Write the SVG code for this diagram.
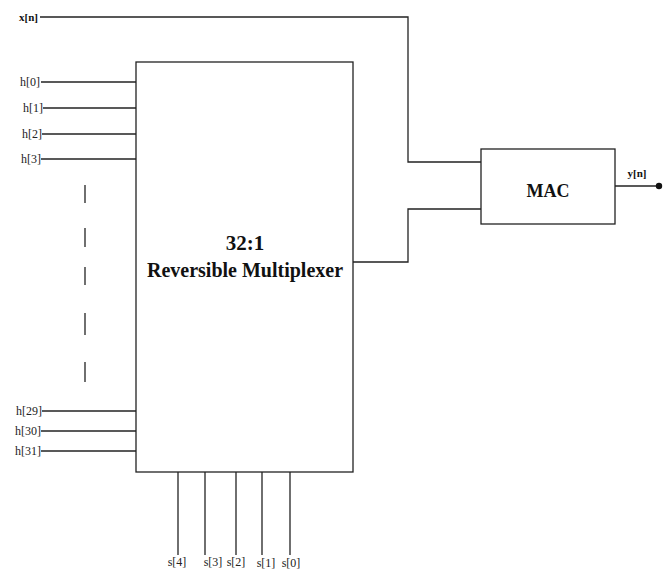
<svg xmlns="http://www.w3.org/2000/svg" width="669" height="571" viewBox="0 0 669 571">
<style>
.w{stroke:#222;stroke-width:1.3;fill:none}
.b{fill:#fff;stroke:#222;stroke-width:1.3}
.t{font-family:"Liberation Serif",serif;font-size:12px;fill:#222}
.tb{font-family:"Liberation Serif",serif;font-weight:bold;fill:#111}
</style>
<rect width="669" height="571" fill="#fff"/>
<g id="connectors">
<polyline class="w" points="40,17 408,17 408,162 481,162"/>
<polyline class="w" points="353,262 408,262 408,209 481,209"/>
<line class="w" x1="615" y1="186" x2="659" y2="186"/>
<circle cx="659" cy="186" r="3.2" fill="#111"/>
<line class="w" x1="41" y1="82" x2="136" y2="82"/>
<line class="w" x1="43" y1="108" x2="136" y2="108"/>
<line class="w" x1="42" y1="134" x2="136" y2="134"/>
<line class="w" x1="41" y1="159" x2="136" y2="159"/>
<line class="w" x1="42" y1="411" x2="136" y2="411"/>
<line class="w" x1="41" y1="431" x2="136" y2="431"/>
<line class="w" x1="41" y1="451" x2="136" y2="451"/>
<g class="w">
<line x1="85" y1="185" x2="85" y2="203"/>
<line x1="85" y1="228" x2="85" y2="247"/>
<line x1="85" y1="267" x2="85" y2="285"/>
<line x1="85" y1="313" x2="85" y2="335"/>
<line x1="85" y1="362" x2="85" y2="382"/>
</g>
<line class="w" x1="178" y1="472" x2="178" y2="555"/>
<line class="w" x1="205" y1="472" x2="205" y2="555"/>
<line class="w" x1="236" y1="472" x2="236" y2="555"/>
<line class="w" x1="262" y1="472" x2="262" y2="555"/>
<line class="w" x1="290" y1="472" x2="290" y2="555"/>
</g>
<g id="mux">
<rect class="b" x="136" y="62" width="217" height="410"/>
<text class="tb" x="245" y="250" font-size="21" text-anchor="middle">32:1</text>
<text class="tb" x="245" y="277" font-size="20" text-anchor="middle">Reversible Multiplexer</text>
</g>
<g id="mac">
<rect class="b" x="481" y="149" width="134" height="75"/>
<text class="tb" x="548" y="197" font-size="18" text-anchor="middle">MAC</text>
</g>
<g id="labels">
<text class="tb" x="38" y="21" font-size="11" text-anchor="end">x[n]</text>
<text class="tb" x="637" y="177" font-size="11" text-anchor="middle">y[n]</text>
<text class="t" x="40" y="86" text-anchor="end">h[0]</text>
<text class="t" x="43" y="112" text-anchor="end">h[1]</text>
<text class="t" x="42" y="138" text-anchor="end">h[2]</text>
<text class="t" x="41" y="163" text-anchor="end">h[3]</text>
<text class="t" x="42" y="415" text-anchor="end">h[29]</text>
<text class="t" x="41" y="435" text-anchor="end">h[30]</text>
<text class="t" x="41" y="455" text-anchor="end">h[31]</text>
<text class="t" x="177" y="566" font-size="11" text-anchor="middle">s[4]</text>
<text class="t" x="213" y="566" font-size="11" text-anchor="middle">s[3]</text>
<text class="t" x="236" y="566" font-size="11" text-anchor="middle">s[2]</text>
<text class="t" x="266" y="567" font-size="11" text-anchor="middle">s[1]</text>
<text class="t" x="291" y="567" font-size="11" text-anchor="middle">s[0]</text>
</g>
</svg>
